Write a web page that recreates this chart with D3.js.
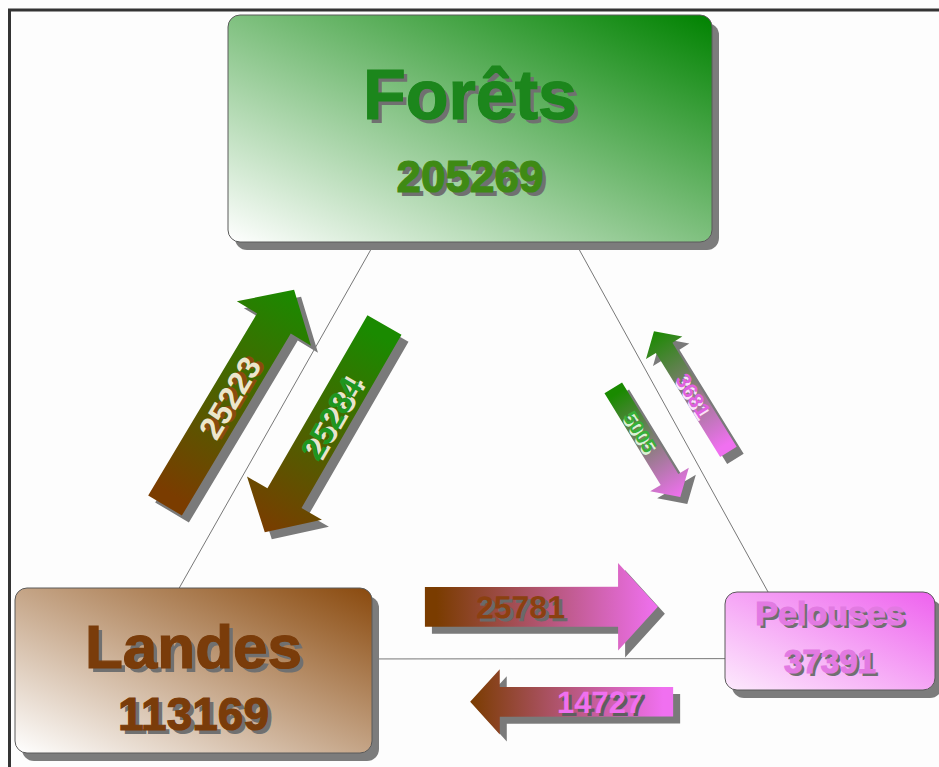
<!DOCTYPE html>
<html lang="fr">
<head>
<meta charset="utf-8">
<title>Forêts, Landes, Pelouses</title>
<script src="https://d3js.org/d3.v7.min.js"></script>
<style>
  body { margin: 0; background: #fdfdfd; }
  text { font-family: "Liberation Sans", Arial, sans-serif; font-weight: bold; }
</style>
</head>
<body>
<script>
// data
var nodeNames = ["Forêts", "Landes", "Pelouses"];
var nodeValues = [205269, 113169, 37391];
var flowSource = ["Landes", "Forêts", "Forêts", "Pelouses", "Landes", "Pelouses"];
var flowTarget = ["Forêts", "Landes", "Pelouses", "Forêts", "Pelouses", "Landes"];
var flowValues = [25223, 25284, 5005, 3681, 25781, 14727];

// layout of the boxes (position, size, colours, text)
var boxLayout = {
  "Forêts":   {x: 228, y: 15,  w: 484, h: 227, color: "#008200", light: "#ffffff", text: "#1c861c", num: "#3f8a14", fs1: 70, fs2: 44, b1: 0.46, b2: 0.78},
  "Landes":   {x: 15,  y: 588, w: 357, h: 165, color: "#8a4a0e", light: "#ffffff", text: "#7a3c0a", num: "#7a3c0a", fs1: 62, fs2: 46, b1: 0.485, b2: 0.86},
  "Pelouses": {x: 725, y: 592, w: 210, h: 98,  color: "#ee62ee", light: "#fdeafd", text: "#e27ae2", num: "#e27ae2", fs1: 34, fs2: 33, b1: 0.34, b2: 0.83}
};
// colour of arrows at each node end
var arrowColor = {"Forêts": "#1a8a00", "Landes": "#7a3c00", "Pelouses": "#f070f0"};

// edges of the triangle: anchor on each box as fraction of a side
var edges = [
  {a: "Landes", sa: "top", fa: 0.46, b: "Forêts", sb: "bottom", fb: 0.304},
  {a: "Forêts", sa: "bottom", fa: 0.717, b: "Pelouses", sb: "top", fb: 0.205},
  {a: "Landes", sa: "right", fa: 0.43, b: "Pelouses", sb: "left", fb: 0.68}
];
// placement of each flow arrow along its edge (t from a to b, perpendicular offset)
var flowPlace = [
  {edge: 0, t0: 0.163, t1: 0.795, o0: -53, o1: -47, lt: 0.50, fs: 32, fill: "#ece6cc", shade: "#8a4a10"},
  {edge: 0, t0: 0.83,  t1: 0.228, o0: 49,  o1: 47,  lt: 0.45, fs: 32, fill: "#1f961f", shade: "#e8e4cc"},
  {edge: 1, t0: 0.366, t1: 0.686, o0: 37,  o1: 31,  lt: 0.40, fs: 20, fill: "#38b038", shade: "#dcf2d6"},
  {edge: 1, t0: 0.645, t1: 0.291, o0: -33, o1: -26, lt: 0.47, fs: 21, fill: "#e060e0", shade: "#fae2fa"},
  {edge: 2, t0: 0.15,  t1: 0.81,  o0: -52, o1: -52, lt: 0.41, fs: 32, fill: "#8b4010", shade: "#6a6a6a"},
  {edge: 2, t0: 0.853, t1: 0.278, o0: 43,  o1: 43,  lt: 0.36, fs: 31, fill: "#f070f0", shade: "#5e5e5e"}
];

var W = 939, H = 767;
var svg = d3.select("body").append("svg").attr("width", W).attr("height", H);
var defs = svg.append("defs");

// arrow width from the flow value
var widthScale = d3.scaleLinear().domain([0, 26000]).range([16, 40]);

function anchor(name, side, f) {
  var b = boxLayout[name];
  if (side == "top") return [b.x + f * b.w, b.y];
  if (side == "bottom") return [b.x + f * b.w, b.y + b.h];
  if (side == "left") return [b.x, b.y + f * b.h];
  return [b.x + b.w, b.y + f * b.h];
}

// frame
svg.append("rect").attr("x", 9.5).attr("y", 10).attr("width", 1000).attr("height", 1000)
  .attr("fill", "none").attr("stroke", "#333").attr("stroke-width", 3);

// triangle lines
edges.forEach(function (e) {
  e.pa = anchor(e.a, e.sa, e.fa);
  e.pb = anchor(e.b, e.sb, e.fb);
  var dx = e.pb[0] - e.pa[0], dy = e.pb[1] - e.pa[1];
  e.len = Math.sqrt(dx * dx + dy * dy);
  e.u = [dx / e.len, dy / e.len];
  e.n = [-e.u[1], e.u[0]];
  svg.append("line")
    .attr("x1", e.pa[0]).attr("y1", e.pa[1]).attr("x2", e.pb[0]).attr("y2", e.pb[1])
    .attr("stroke", "#555").attr("stroke-width", 0.8);
});

// boxes
nodeNames.forEach(function (name, i) {
  var b = boxLayout[name];
  var gid = "box" + i;
  var gr = defs.append("linearGradient").attr("id", gid)
    .attr("x1", 0).attr("y1", 1).attr("x2", 1).attr("y2", 0);
  gr.append("stop").attr("offset", "0%").attr("stop-color", b.light);
  gr.append("stop").attr("offset", "100%").attr("stop-color", b.color);

  var g = svg.append("g");
  g.append("rect").attr("x", b.x + 7).attr("y", b.y + 8).attr("width", b.w).attr("height", b.h)
    .attr("rx", 12).attr("fill", "#7c7c7c");
  g.append("rect").attr("x", b.x).attr("y", b.y).attr("width", b.w).attr("height", b.h)
    .attr("rx", 12).attr("fill", "url(#" + gid + ")").attr("stroke", "#5a5a5a").attr("stroke-width", 1);

  var cx = b.x + b.w / 2;
  var lines = [
    {t: name, fs: b.fs1, y: b.y + b.b1 * b.h, c: b.text},
    {t: String(nodeValues[i]), fs: b.fs2, y: b.y + b.b2 * b.h, c: b.num}
  ];
  lines.forEach(function (l) {
    var off = l.fs > 40 ? 4 : 3;
    g.append("text").attr("x", cx + off).attr("y", l.y + off).attr("text-anchor", "middle")
      .attr("font-size", l.fs).attr("fill", "#707070").text(l.t);
    g.append("text").attr("x", cx).attr("y", l.y).attr("text-anchor", "middle")
      .attr("font-size", l.fs).attr("fill", l.c).attr("stroke", l.c).attr("stroke-width", 1.2).text(l.t);
  });
});

// arrows
flowValues.forEach(function (v, i) {
  var p = flowPlace[i];
  var e = edges[p.edge];
  var tail = [e.pa[0] + e.u[0] * p.t0 * e.len + e.n[0] * p.o0, e.pa[1] + e.u[1] * p.t0 * e.len + e.n[1] * p.o0];
  var tip = [e.pa[0] + e.u[0] * p.t1 * e.len + e.n[0] * p.o1, e.pa[1] + e.u[1] * p.t1 * e.len + e.n[1] * p.o1];
  var dx = tip[0] - tail[0], dy = tip[1] - tail[1];
  var L = Math.sqrt(dx * dx + dy * dy);
  var ang = Math.atan2(dy, dx) * 180 / Math.PI;
  var w = widthScale(v), hl = w * 1.0, hw = w * 1.1;

  var pts = [[0, -w / 2], [L - hl, -w / 2], [L - hl, -hw], [L, 0], [L - hl, hw], [L - hl, w / 2], [0, w / 2]];
  var line = d3.line();

  var gid = "arr" + i;
  var gr = defs.append("linearGradient").attr("id", gid).attr("gradientUnits", "userSpaceOnUse")
    .attr("x1", 0).attr("y1", 0).attr("x2", L).attr("y2", 0);
  gr.append("stop").attr("offset", "5%").attr("stop-color", arrowColor[flowSource[i]]);
  gr.append("stop").attr("offset", "100%").attr("stop-color", arrowColor[flowTarget[i]]);

  // shadow
  svg.append("path")
    .attr("transform", "translate(" + (tail[0] + 7) + "," + (tail[1] + 7) + ") rotate(" + ang + ")")
    .attr("d", line(pts) + "Z").attr("fill", "#7a7a7a");

  var g = svg.append("g").attr("transform", "translate(" + tail[0] + "," + tail[1] + ") rotate(" + ang + ")");
  g.append("path").attr("d", line(pts) + "Z").attr("fill", "url(#" + gid + ")");

  // label, kept readable
  var lp = [tail[0] + dx * p.lt, tail[1] + dy * p.lt];
  var ta = ang;
  if (ta > 90) ta -= 180;
  if (ta < -90) ta += 180;
  var lg = svg.append("g").attr("transform", "translate(" + lp[0] + "," + lp[1] + ") rotate(" + ta + ")");
  var so = p.fs > 25 ? 3 : 2;
  lg.append("text").attr("x", so).attr("y", so).attr("text-anchor", "middle").attr("dy", "0.36em")
    .attr("font-size", p.fs).attr("fill", p.shade).text(v);
  lg.append("text").attr("text-anchor", "middle").attr("dy", "0.36em")
    .attr("font-size", p.fs).attr("fill", p.fill).text(v);
});
</script>
</body>
</html>
